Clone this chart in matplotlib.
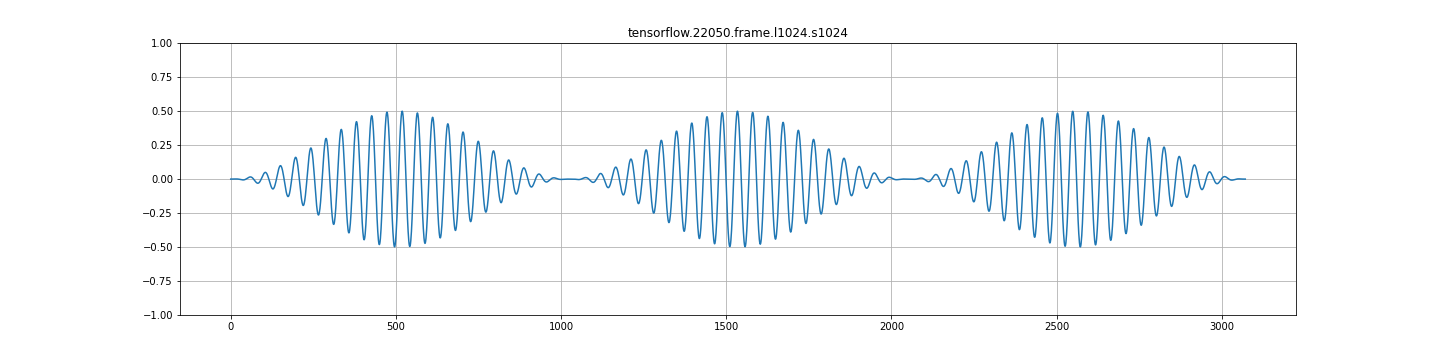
import numpy as np
import matplotlib
matplotlib.use("Agg")
import matplotlib.pyplot as plt

title_text = "tensorflow.22050.frame.l1024.s1024"
sample_rate = 22050          # from title
frame_length = 1024          # from title (l1024)
frame_step = 1024            # from title (s1024)
n_frames = 3                 # three windowed frames visible
tone_hz = 478.0              # peak spacing ~46 samples
tone_amp = 0.5               # peak height at frame centre
x_ticks = [0, 500, 1000, 1500, 2000, 2500, 3000]
y_ticks = [-1.00, -0.75, -0.50, -0.25, 0.00, 0.25, 0.50, 0.75, 1.00]

# tone -> frames -> periodic Hann window -> flattened (as tf.signal.frame + hann_window)
n_total = frame_step * (n_frames - 1) + frame_length
n = np.arange(n_total)
tone = tone_amp * np.sin(2 * np.pi * tone_hz * n / sample_rate)
frames = np.stack([tone[i * frame_step:i * frame_step + frame_length] for i in range(n_frames)])
k = np.arange(frame_length)
hann = 0.5 - 0.5 * np.cos(2 * np.pi * k / frame_length)
values = (frames * hann).ravel()

fig = plt.figure(figsize=(20, 5), dpi=72)
fig.subplots_adjust(left=0.125, right=0.9, top=0.88, bottom=0.125)
ax = fig.add_subplot(111)
ax.plot(values, color="#1f77b4", linewidth=1.5)
ax.set_title(title_text)
ax.set_ylim(-1, 1)
ax.set_yticks(y_ticks)
ax.set_xticks(x_ticks)
ax.grid(True, color="#b0b0b0", linewidth=0.8)
fig.savefig("out.png", dpi=72)
